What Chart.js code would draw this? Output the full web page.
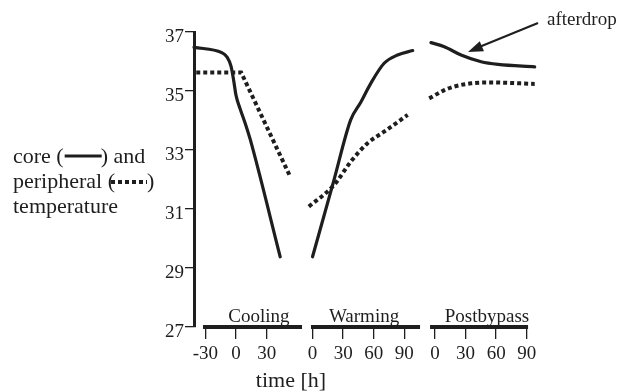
<!DOCTYPE html>
<html><head><meta charset="utf-8">
<script src="https://cdn.jsdelivr.net/npm/chart.js@4/dist/chart.umd.min.js"></script>
<style>html,body{margin:0;padding:0;background:#fff;}#wrap{width:619px;height:392px;}</style>
</head><body><div id="wrap"><canvas id="c" width="619" height="392"></canvas></div>
<script>
// ---- data ----
const segmentNames = ['Cooling', 'Warming', 'Postbypass'];
const coolingTicks = [-30, 0, 30];
const warmingTicks = [0, 30, 60, 90];
const postTicks = [0, 30, 60, 90];
const yTicks = [27, 29, 31, 33, 35, 37];

const coolingCoreT = [-41.2, -14, -9, -5, -2.5, 0, 4, 10, 14, 43.3];
const coolingCoreV = [36.48, 36.30, 36.16, 35.85, 35.4, 34.85, 34.4, 33.8, 33.35, 29.38];
const coolingPeriT = [-39, 5, 53.2];
const coolingPeriV = [35.63, 35.63, 32.09];

const warmingCoreT = [0, 21, 37.4, 47.3, 57.1, 70.2, 83.4, 98.2];
const warmingCoreV = [29.38, 31.98, 34.02, 34.62, 35.26, 35.94, 36.22, 36.37];
const warmingPeriT = [-3.6, 21, 37.4, 53.9, 70.2, 93.3];
const warmingPeriV = [31.08, 31.81, 32.60, 33.23, 33.62, 34.19];

const postCoreT = [-3.9, 9.2, 25.6, 45.3, 61.8, 97.8];
const postCoreV = [36.64, 36.50, 36.22, 35.99, 35.90, 35.82];
const postPeriT = [-5.6, 9.2, 18.7, 35.5, 51.9, 97.8];
const postPeriV = [34.75, 35.03, 35.15, 35.26, 35.29, 35.24];

// ---- layout constants (positions of the three time segments on one shared axis) ----
const segOffset = [0, 75, 195];
const segBar = [[-32.4, 64.7], [-1.5, 105.4], [-4.8, 91.3]];
const segLabelAt = [22.5, 50.5, 51];
const INK = '#1e1e1e';
const SERIF = "'Liberation Serif', 'Times New Roman', serif";

function pts(T, V, off) { return T.map((t, i) => ({ x: t + off, y: V[i] })); }

const xTickValues = [];
const xTickLabels = [];
[coolingTicks, warmingTicks, postTicks].forEach((arr, s) => arr.forEach(t => {
  xTickValues.push(t + segOffset[s]); xTickLabels.push(String(t));
}));

const solid = { borderColor: INK, borderWidth: 3.2, pointRadius: 0, borderCapStyle: 'round', borderJoinStyle: 'round', cubicInterpolationMode: 'monotone', fill: false, clip: false };
const dotted = { borderColor: INK, borderWidth: 4, pointRadius: 0, borderDash: [4, 3], borderCapStyle: 'butt', cubicInterpolationMode: 'monotone', fill: false, clip: false };

const datasets = [
  Object.assign({ label: 'cooling core', data: pts(coolingCoreT, coolingCoreV, segOffset[0]) }, solid),
  Object.assign({ label: 'cooling peripheral', data: pts(coolingPeriT, coolingPeriV, segOffset[0]) }, dotted, { tension: 0, cubicInterpolationMode: 'default' }),
  Object.assign({ label: 'warming core', data: pts(warmingCoreT, warmingCoreV, segOffset[1]) }, solid),
  Object.assign({ label: 'warming peripheral', data: pts(warmingPeriT, warmingPeriV, segOffset[1]) }, dotted),
  Object.assign({ label: 'postbypass core', data: pts(postCoreT, postCoreV, segOffset[2]) }, solid),
  Object.assign({ label: 'postbypass peripheral', data: pts(postPeriT, postPeriV, segOffset[2]) }, dotted),
];

const decor = {
  id: 'decor',
  afterDraw(chart) {
    const ctx = chart.ctx, xs = chart.scales.x, area = chart.chartArea;
    ctx.save();
    // segment axis bars and their names
    ctx.strokeStyle = INK; ctx.lineWidth = 4; ctx.lineCap = 'butt';
    ctx.fillStyle = INK; ctx.font = '19px ' + SERIF; ctx.textAlign = 'center'; ctx.textBaseline = 'alphabetic';
    segBar.forEach((b, s) => {
      const a = xs.getPixelForValue(b[0] + segOffset[s]);
      const e = xs.getPixelForValue(b[1] + segOffset[s]);
      ctx.beginPath(); ctx.moveTo(a, area.bottom); ctx.lineTo(e, area.bottom); ctx.stroke();
      ctx.fillText(segmentNames[s], xs.getPixelForValue(segLabelAt[s] + segOffset[s]), area.bottom - 5);
    });
    // axis title
    ctx.font = '22px ' + SERIF;
    ctx.fillText('time [h]', 291, 387);
    // left label with line-style keys
    ctx.textAlign = 'left';
    let x = 13;
    ctx.fillText('core (', x, 163);
    x += ctx.measureText('core (').width;
    ctx.lineWidth = 3; ctx.beginPath(); ctx.moveTo(x + 1, 156); ctx.lineTo(x + 38, 156); ctx.stroke();
    ctx.fillText(') and', x + 37, 163);
    x = 13;
    ctx.fillText('peripheral (', x, 188);
    x += ctx.measureText('peripheral (').width;
    ctx.lineWidth = 4; ctx.setLineDash([4, 3]);
    ctx.beginPath(); ctx.moveTo(x - 4, 182); ctx.lineTo(x + 32, 182); ctx.stroke();
    ctx.setLineDash([]);
    ctx.fillText(')', x + 32, 188);
    ctx.fillText('temperature', 13, 213);
    // afterdrop annotation
    ctx.font = '19px ' + SERIF;
    ctx.fillText('afterdrop', 547, 25);
    ctx.lineWidth = 2; ctx.beginPath(); ctx.moveTo(538, 23); ctx.lineTo(478, 47.5); ctx.stroke();
    const tx = 468, ty = 52, ang = Math.atan2(23 - 52, 538 - 468);
    ctx.beginPath();
    ctx.moveTo(tx, ty);
    ctx.lineTo(tx + 15 * Math.cos(ang) - 5.5 * Math.sin(ang), ty + 15 * Math.sin(ang) + 5.5 * Math.cos(ang));
    ctx.lineTo(tx + 15 * Math.cos(ang) + 5.5 * Math.sin(ang), ty + 15 * Math.sin(ang) - 5.5 * Math.cos(ang));
    ctx.closePath(); ctx.fill();
    ctx.restore();
  }
};

new Chart(document.getElementById('c'), {
  type: 'line',
  data: { datasets },
  options: {
    responsive: false, animation: false, devicePixelRatio: 1,
    layout: { padding: { top: 32, right: 59, left: 0, bottom: 0 } },
    plugins: { legend: { display: false }, tooltip: { enabled: false } },
    scales: {
      x: {
        type: 'linear', min: -41.2, max: 317.6,
        afterBuildTicks: s => { s.ticks = xTickValues.map(v => ({ value: v })); },
        afterFit: s => { s.height = 65; },
        border: { display: false },
        grid: { drawOnChartArea: false, drawTicks: true, tickLength: 12, color: INK, lineWidth: 1.3 },
        ticks: { font: { family: SERIF, size: 19 }, color: INK, padding: 4, maxRotation: 0, autoSkip: false,
                 callback: (v, i) => xTickLabels[i] }
      },
      y: {
        type: 'linear', min: 27, max: 37,
        afterBuildTicks: s => { s.ticks = yTicks.map(v => ({ value: v })); },
        afterFit: s => { s.width = 194; },
        border: { display: true, color: INK, width: 3 },
        grid: { drawOnChartArea: false, drawTicks: true, tickLength: 9, color: INK, lineWidth: 1.3 },
        ticks: { font: { family: SERIF, size: 19 }, color: INK, padding: 1, labelOffset: 5 }
      }
    }
  },
  plugins: [decor]
});
</script></body></html>
